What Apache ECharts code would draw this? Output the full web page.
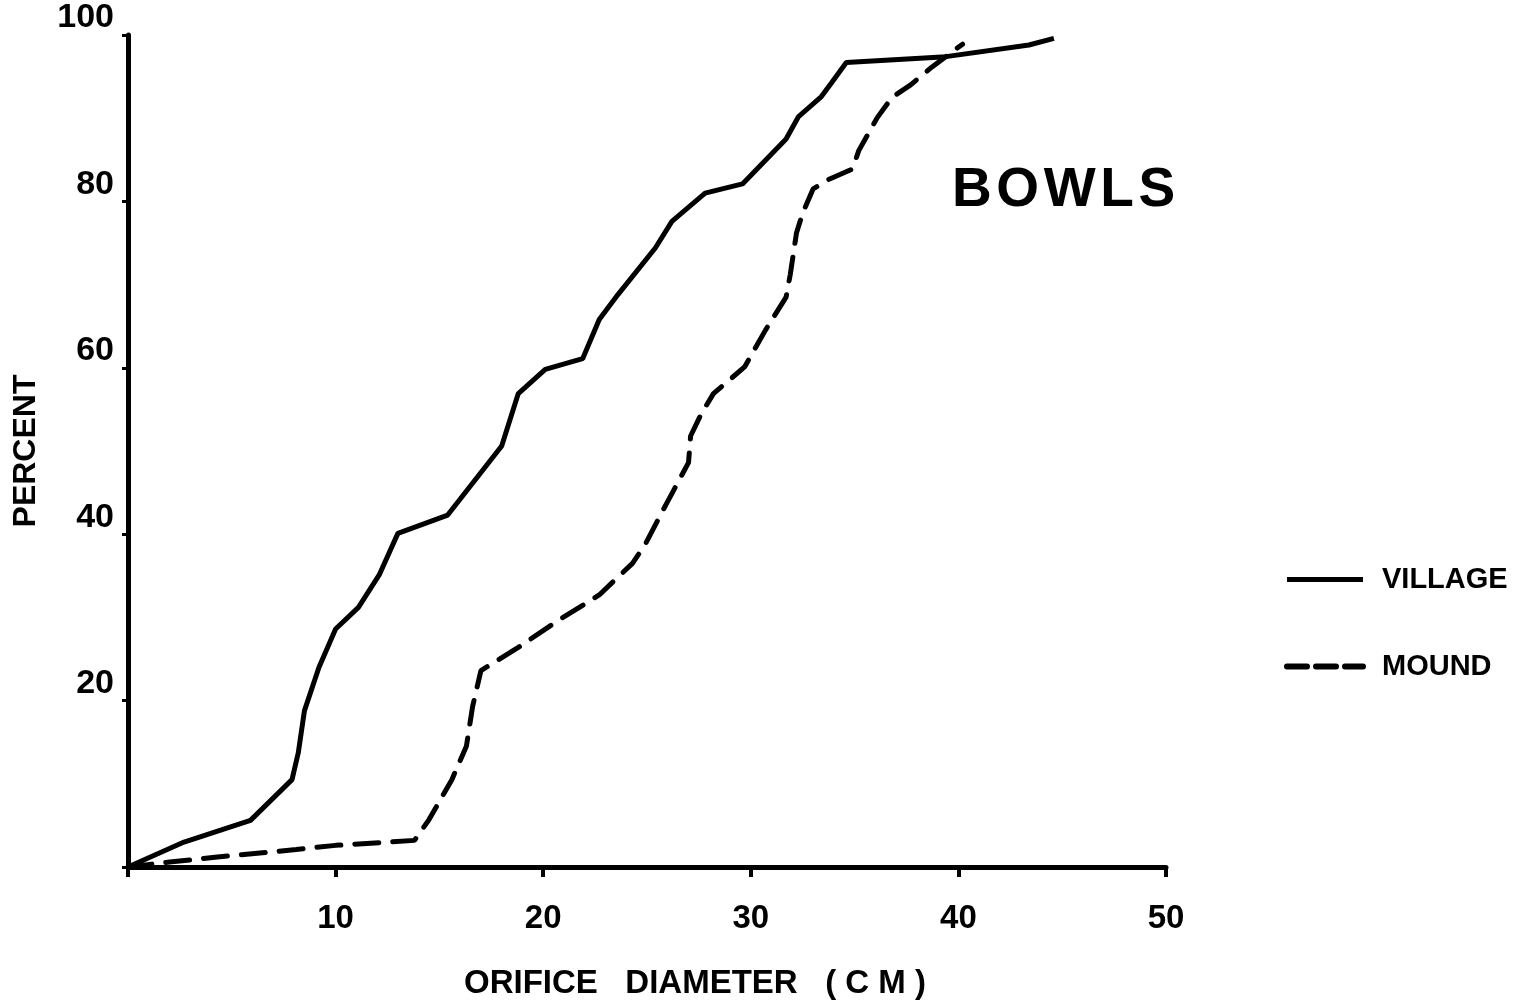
<!DOCTYPE html>
<html>
<head>
<meta charset="utf-8">
<title>Bowls - orifice diameter</title>
<script src="https://cdn.jsdelivr.net/npm/echarts@6/dist/echarts.min.js"></script>
<style>
  html, body { margin: 0; padding: 0; background: #fff; }
  #chart { width: 1529px; height: 1005px; }
</style>
</head>
<body>
<div id="chart"></div>
<script>
// cumulative percent by orifice diameter (cm)
const villageDiam = [0, 2.7, 5.9, 7.9, 8.2, 8.5, 9.2, 10.0, 11.1, 12.1, 13.0, 15.4, 18.0, 18.8, 20.1, 21.9, 22.7, 23.6, 25.4, 26.2, 27.8, 29.6, 31.7, 32.3, 33.4, 33.9, 34.6, 39.4, 43.4, 44.6];
const villagePct  = [0, 3.0, 5.6, 10.5, 13.7, 18.8, 24.0, 28.6, 31.2, 35.1, 40.1, 42.3, 50.6, 56.9, 59.8, 61.1, 65.8, 68.8, 74.4, 77.6, 81.0, 82.1, 87.5, 90.2, 92.6, 94.3, 96.7, 97.4, 98.8, 99.6];

const moundDiam = [0, 2.0, 4.3, 8.1, 10.0, 13.8, 14.5, 15.6, 16.3, 16.6, 17.0, 18.8, 20.7, 22.7, 24.3, 24.9, 25.9, 27.0, 27.1, 27.6, 28.2, 29.7, 30.7, 31.7, 31.9, 32.2, 32.5, 33.0, 33.8, 34.9, 35.2, 36.1, 36.8, 37.7, 38.7, 40.2];
const moundPct  = [0, 0.6, 1.2, 2.1, 2.6, 3.2, 5.7, 10.5, 14.5, 19.3, 23.6, 26.4, 29.6, 32.7, 36.5, 38.7, 43.5, 48.6, 51.8, 54.4, 56.9, 60.1, 64.5, 68.5, 71.2, 76.2, 78.6, 81.5, 82.7, 83.9, 86.1, 90.1, 92.5, 94.0, 96.1, 98.9];

const xTicks = [10, 20, 30, 40, 50];
const yTicks = [20, 40, 60, 80, 100];

const FONT = 'Liberation Sans, Arial, sans-serif';
const DASH = [24, 14];

function pairs(xs, ys) {
  return xs.map((x, i) => [x, ys[i]]);
}

let chart = echarts.init(document.getElementById('chart'));
let option = {
  backgroundColor: '#fff',
  animation: false,
  title: {
    text: 'B\u200AO\u200AW\u200AL\u200AS',
    left: 947,
    top: 158,
    textStyle: { fontFamily: FONT, fontWeight: 'bold', fontSize: 55, color: '#000' }
  },
  legend: {
    orient: 'vertical',
    left: 1279,
    top: 560,
    itemWidth: 76,
    itemHeight: 14,
    itemGap: 58,
    itemStyle: { color: 'rgba(0,0,0,0)', borderWidth: 0 },
    textStyle: { fontFamily: FONT, fontWeight: 'bold', fontSize: 29, color: '#000', padding: [0, 0, 0, 14] },
    data: [
      { name: 'VILLAGE', itemStyle: { color: 'rgba(0,0,0,0)', borderWidth: 0 }, lineStyle: { color: '#000', width: 5, type: 'solid' } },
      { name: 'MOUND', itemStyle: { color: 'rgba(0,0,0,0)', borderWidth: 0 }, lineStyle: { color: '#000', width: 6, type: [20, 9] } }
    ]
  },
  grid: { left: 128, right: 363, top: 35, bottom: 130, containLabel: false },
  xAxis: {
    type: 'value',
    min: 0,
    max: 50,
    interval: 10,
    name: 'ORIFICE   DIAMETER   ( C M )',
    nameLocation: 'middle',
    nameGap: 100,
    nameTextStyle: { fontFamily: FONT, fontWeight: 'bold', fontSize: 33, color: '#000', padding: [0, 0, 0, 96] },
    axisLine: { lineStyle: { color: '#000', width: 5 } },
    axisTick: { show: true, length: 10, lineStyle: { color: '#000', width: 4 } },
    splitLine: { show: false },
    axisLabel: {
      margin: 35,
      customValues: xTicks,
      fontFamily: FONT, fontWeight: 'bold', fontSize: 33, color: '#000'
    }
  },
  yAxis: {
    type: 'value',
    min: 0,
    max: 100,
    interval: 20,
    name: 'PERCENT',
    nameLocation: 'middle',
    nameRotate: 90,
    nameGap: 86,
    nameTextStyle: { fontFamily: FONT, fontWeight: 'bold', fontSize: 32, color: '#000' },
    axisLine: { lineStyle: { color: '#000', width: 5 } },
    axisTick: { show: true, length: 6, lineStyle: { color: '#000', width: 3 } },
    splitLine: { show: false },
    axisLabel: {
      margin: 14,
      customValues: yTicks,
      verticalAlign: 'bottom',
      fontFamily: FONT, fontWeight: 'bold', fontSize: 34, color: '#000'
    }
  },
  series: [
    {
      name: 'VILLAGE',
      type: 'line',
      symbol: 'none',
      data: pairs(villageDiam, villagePct),
      lineStyle: { color: '#000', width: 5 },
      itemStyle: { color: '#000' }
    },
    {
      name: 'MOUND',
      type: 'line',
      symbol: 'none',
      data: pairs(moundDiam, moundPct),
      lineStyle: { color: '#000', width: 5, type: DASH, cap: 'round' },
      itemStyle: { color: '#000' }
    }
  ]
};
chart.setOption(option);
</script>
</body>
</html>
